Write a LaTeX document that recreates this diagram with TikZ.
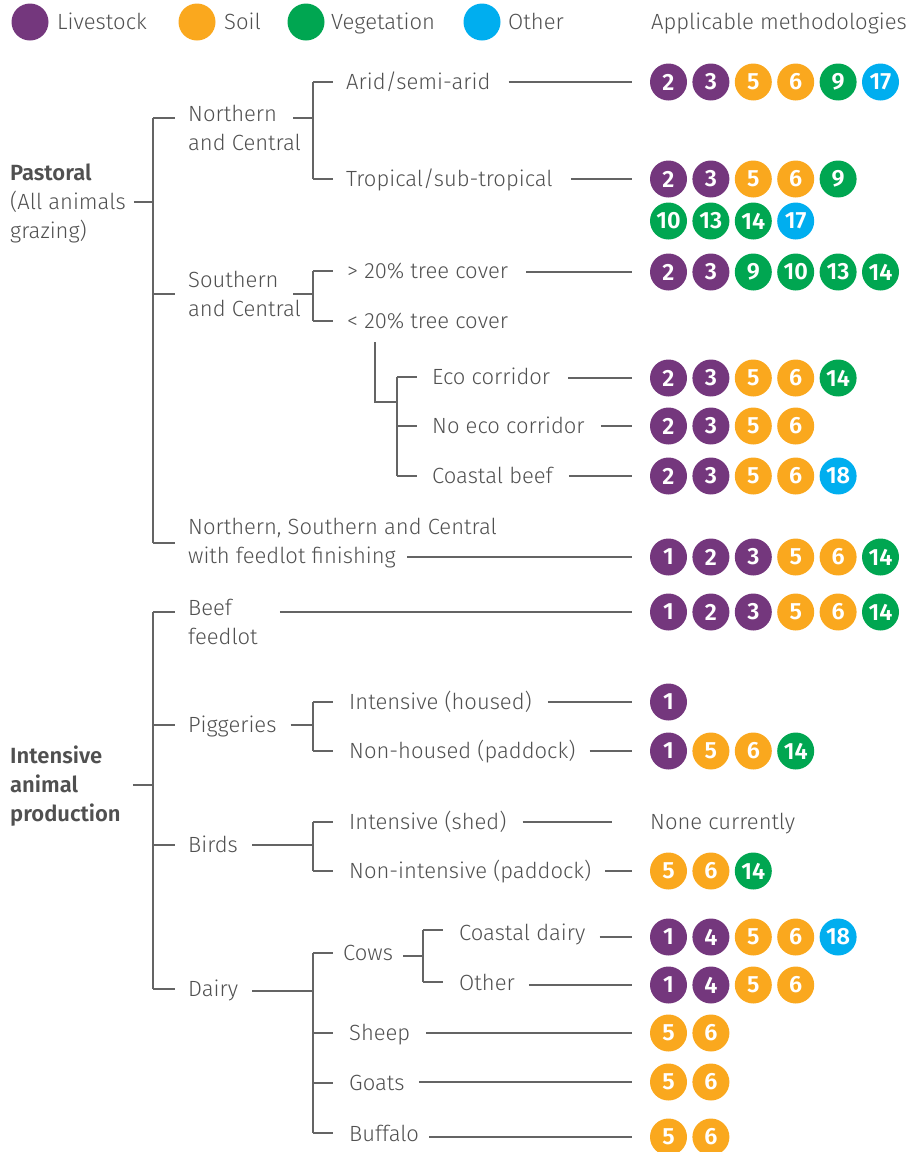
\documentclass[tikz,border=0pt]{standalone}
\usepackage{fontspec}
\setmainfont{Fira Sans Light}[BoldFont={Fira Sans SemiBold}]
\definecolor{cL}{RGB}{116,55,125}
\definecolor{cS}{RGB}{250,168,30}
\definecolor{cV}{RGB}{0,166,81}
\definecolor{cO}{RGB}{0,174,239}
\definecolor{txt}{RGB}{80,80,80}
\definecolor{ln}{RGB}{100,100,100}
\newcommand\ml[1]{\begin{tabular}[t]{@{}l@{}}#1\end{tabular}}
\newcommand\mrow[3]{%
  \foreach \cc/\nn [count=\ii] in {#3} {\node[mc, fill=c\cc] (#1-\ii) at ({668.5+42.4*(\ii-1)},#2) {\nn};}}
\tikzset{
  conn/.style={draw=ln, line width=1.3pt},
  lbl/.style={anchor=base west, inner sep=0pt, text=txt, font=\fontsize{22}{29}\selectfont},
  mc/.style={circle, minimum size=37pt, inner sep=0pt, text=white, font=\fontsize{23.5}{23.5}\selectfont\bfseries},
}
\begin{document}
\begin{tikzpicture}[x=1pt,y=-1pt]
\useasboundingbox (0,0) rectangle (912,1152);
% legend
\node[mc, fill=cL] (legL) at (30,22) {};
\node[lbl] (legLt) at (57,29) {Livestock};
\node[mc, fill=cS] (legS) at (197,22) {};
\node[lbl] (legSt) at (224,29) {Soil};
\node[mc, fill=cV] (legV) at (306,22) {};
\node[lbl] (legVt) at (331,29) {Vegetation};
\node[mc, fill=cO] (legO) at (482,22) {};
\node[lbl] (legOt) at (508,29) {Other};
\node[lbl] (head) at (651,29) {Applicable methodologies};

% ---------------- Pastoral
\node[lbl] (pas) at (10,180) {\ml{\textbf{Pastoral}\\(All animals\\grazing)}};
\coordinate (pT) at (153,118); \coordinate (pM) at (153,202);
\coordinate (pS) at (153,294); \coordinate (pB) at (153,543);
\draw[conn] (pT) -- (pB);
\draw[conn] ([xshift=8pt]pas.east |- pM) -- (pM);
\foreach \p in {pT,pS,pB} \draw[conn] (\p) -- ++(22,0);

% Northern and Central
\node[lbl] (nc) at (188,121) {\ml{Northern\\and Central}};
\coordinate (nJ) at (313,118); \coordinate (nT) at (313,82); \coordinate (nB) at (313,179);
\draw[conn] ([xshift=-20pt]nJ) -- (nJ);
\draw[conn] (nT) -- (nB);
\draw[conn] (nT) -- ++(20,0);
\draw[conn] (nB) -- ++(20,0);
\node[lbl] (arid) at (346,89) {Arid/semi-arid};
\mrow{a}{82}{L/2,L/3,S/5,S/6,V/9,O/17}
\draw[conn] ([xshift=18pt]arid.east |- a-1) -- ([xshift=-18pt]a-1.west);
\node[lbl] (trop) at (346,186) {Tropical/sub-tropical};
\mrow{t}{179}{L/2,L/3,S/5,S/6,V/9}
\mrow{u}{221}{V/10,V/13,V/14,O/17}
\draw[conn] ([xshift=18pt]trop.east |- t-1) -- ([xshift=-18pt]t-1.west);

% Southern and Central
\node[lbl] (sc) at (188,287) {\ml{Southern\\and Central}};
\coordinate (sJ) at (313,294); \coordinate (sT) at (313,271); \coordinate (sB) at (313,321);
\draw[conn] ([xshift=-20pt]sJ) -- (sJ);
\draw[conn] (sT) -- (sB);
\draw[conn] (sT) -- ++(20,0);
\draw[conn] (sB) -- ++(20,0);
\node[lbl] (gt) at (347,278) {> 20\% tree cover};
\mrow{g}{272}{L/2,L/3,V/9,V/10,V/13,V/14}
\draw[conn] ([xshift=18pt]gt.east |- g-1) -- ([xshift=-18pt]g-1.west);
\node[lbl] (lt) at (347,328) {< 20\% tree cover};
\coordinate (lA) at (375,342); \coordinate (lJ) at (375,402);
\coordinate (eJ) at (397,402); \coordinate (eT) at (397,377);
\coordinate (eM) at (397,426); \coordinate (eB) at (397,476);
\draw[conn] (lA) -- (lJ) -- (eJ);
\draw[conn] (eT) -- (eB);
\foreach \p in {eT,eM,eB} \draw[conn] (\p) -- ++(20,0);
\node[lbl] (eco) at (432,384) {Eco corridor};
\mrow{e}{378}{L/2,L/3,S/5,S/6,V/14}
\draw[conn] ([xshift=18pt]eco.east |- e-1) -- ([xshift=-18pt]e-1.west);
\node[lbl] (neco) at (432,433) {No eco corridor};
\mrow{n}{426}{L/2,L/3,S/5,S/6}
\draw[conn] ([xshift=16pt]neco.east |- n-1) -- ([xshift=-18pt]n-1.west);
\node[lbl] (cb) at (432,483) {Coastal beef};
\mrow{c}{476}{L/2,L/3,S/5,S/6,O/18}
\draw[conn] ([xshift=16pt]cb.east |- c-1) -- ([xshift=-18pt]c-1.west);

% Northern, Southern and Central with feedlot finishing
\node[lbl] (nsc) at (188,534) {\ml{Northern, Southern and Central\\with feedlot finishing}};
\mrow{f}{557}{L/1,L/2,L/3,S/5,S/6,V/14}
\coordinate (fS) at (407,557);
\draw[conn] (fS) -- ([xshift=-18pt]f-1.west);

% ---------------- Intensive animal production
\node[lbl] (iap) at (10,763) {\ml{\textbf{Intensive}\\\textbf{animal}\\\textbf{production}}};
\coordinate (iT) at (153,612); \coordinate (iP) at (153,725);
\coordinate (iBd) at (153,845); \coordinate (iD) at (153,989);
\coordinate (iM) at (153,785);
\draw[conn] ([xshift=12pt]iap.east |- iM) -- (iM);
\draw[conn] (iT) -- (iD);
\foreach \p in {iT,iP,iBd,iD} \draw[conn] (\p) -- ++(22,0);

% Beef feedlot
\node[lbl] (beef) at (188,615) {\ml{Beef\\feedlot}};
\mrow{b}{612}{L/1,L/2,L/3,S/5,S/6,V/14}
\draw[conn] ([xshift=22pt]beef.east |- b-1) -- ([xshift=-18pt]b-1.west);

% Piggeries
\node[lbl] (pig) at (188,732) {Piggeries};
\coordinate (gJ) at (313,725); \coordinate (gT) at (313,702); \coordinate (gB) at (313,751);
\draw[conn] ([xshift=14pt]pig.east |- gJ) -- (gJ);
\draw[conn] (gT) -- (gB);
\draw[conn] (gT) -- ++(20,0);
\draw[conn] (gB) -- ++(20,0);
\node[lbl] (ih) at (349,709) {Intensive (housed)};
\mrow{h}{702}{L/1}
\draw[conn] ([xshift=16pt]ih.east |- h-1) -- ([xshift=-18pt]h-1.west);
\node[lbl] (nh) at (349,758) {Non-housed (paddock)};
\mrow{k}{751}{L/1,S/5,S/6,V/14}
\draw[conn] ([xshift=14pt]nh.east |- k-1) -- ([xshift=-18pt]k-1.west);

% Birds
\node[lbl] (birds) at (188,852) {Birds};
\coordinate (rJ) at (313,845); \coordinate (rT) at (313,822); \coordinate (rB) at (313,871);
\draw[conn] ([xshift=14pt]birds.east |- rJ) -- (rJ);
\draw[conn] (rT) -- (rB);
\draw[conn] (rT) -- ++(20,0);
\draw[conn] (rB) -- ++(20,0);
\node[lbl] (is) at (349,829) {Intensive (shed)};
\node[lbl] (none) at (650,829) {None currently};
\draw[conn] ([xshift=16pt]is.east |- rT) -- ([xshift=-38pt]none.west |- rT);
\node[lbl] (ni) at (349,878) {Non-intensive (paddock)};
\mrow{q}{871}{S/5,S/6,V/14}
\draw[conn] ([xshift=14pt]ni.east |- q-1) -- ([xshift=-18pt]q-1.west);

% Dairy
\node[lbl] (dairy) at (188,996) {Dairy};
\coordinate (dJ) at (313,991); \coordinate (dT) at (313,953);
\coordinate (dS) at (313,1033); \coordinate (dG) at (313,1083); \coordinate (dB) at (313,1133);
\draw[conn] ([xshift=14pt]dairy.east |- dJ) -- (dJ);
\draw[conn] (dT) -- (dB);
\foreach \p in {dT,dS,dG,dB} \draw[conn] (\p) -- ++(20,0);
\node[lbl] (cows) at (343,960) {Cows};
\coordinate (wJ) at (423,956); \coordinate (wT) at (423,930); \coordinate (wB) at (423,982);
\draw[conn] ([xshift=10pt]cows.east |- wJ) -- (wJ);
\draw[conn] (wT) -- (wB);
\draw[conn] (wT) -- ++(20,0);
\draw[conn] (wB) -- ++(20,0);
\node[lbl] (cd) at (459,940) {Coastal dairy};
\mrow{x}{937}{L/1,L/4,S/5,S/6,O/18}
\draw[conn] ([xshift=14pt]cd.east |- x-1) -- ([xshift=-18pt]x-1.west);
\node[lbl] (oth) at (459,990) {Other};
\mrow{o}{985}{L/1,L/4,S/5,S/6}
\draw[conn] ([xshift=14pt]oth.east |- o-1) -- ([xshift=-18pt]o-1.west);
\node[lbl] (sheep) at (349,1040) {Sheep};
\mrow{s}{1033}{S/5,S/6}
\draw[conn] ([xshift=16pt]sheep.east |- s-1) -- ([xshift=-18pt]s-1.west);
\node[lbl] (goats) at (349,1090) {Goats};
\mrow{y}{1082}{S/5,S/6}
\draw[conn] ([xshift=14pt]goats.east |- y-1) -- ([xshift=-18pt]y-1.west);
\node[lbl] (buff) at (349,1141) {Buffalo};
\mrow{z}{1137}{S/5,S/6}
\draw[conn] ([xshift=10pt]buff.east |- z-1) -- ([xshift=-18pt]z-1.west);
\end{tikzpicture}
\end{document}
